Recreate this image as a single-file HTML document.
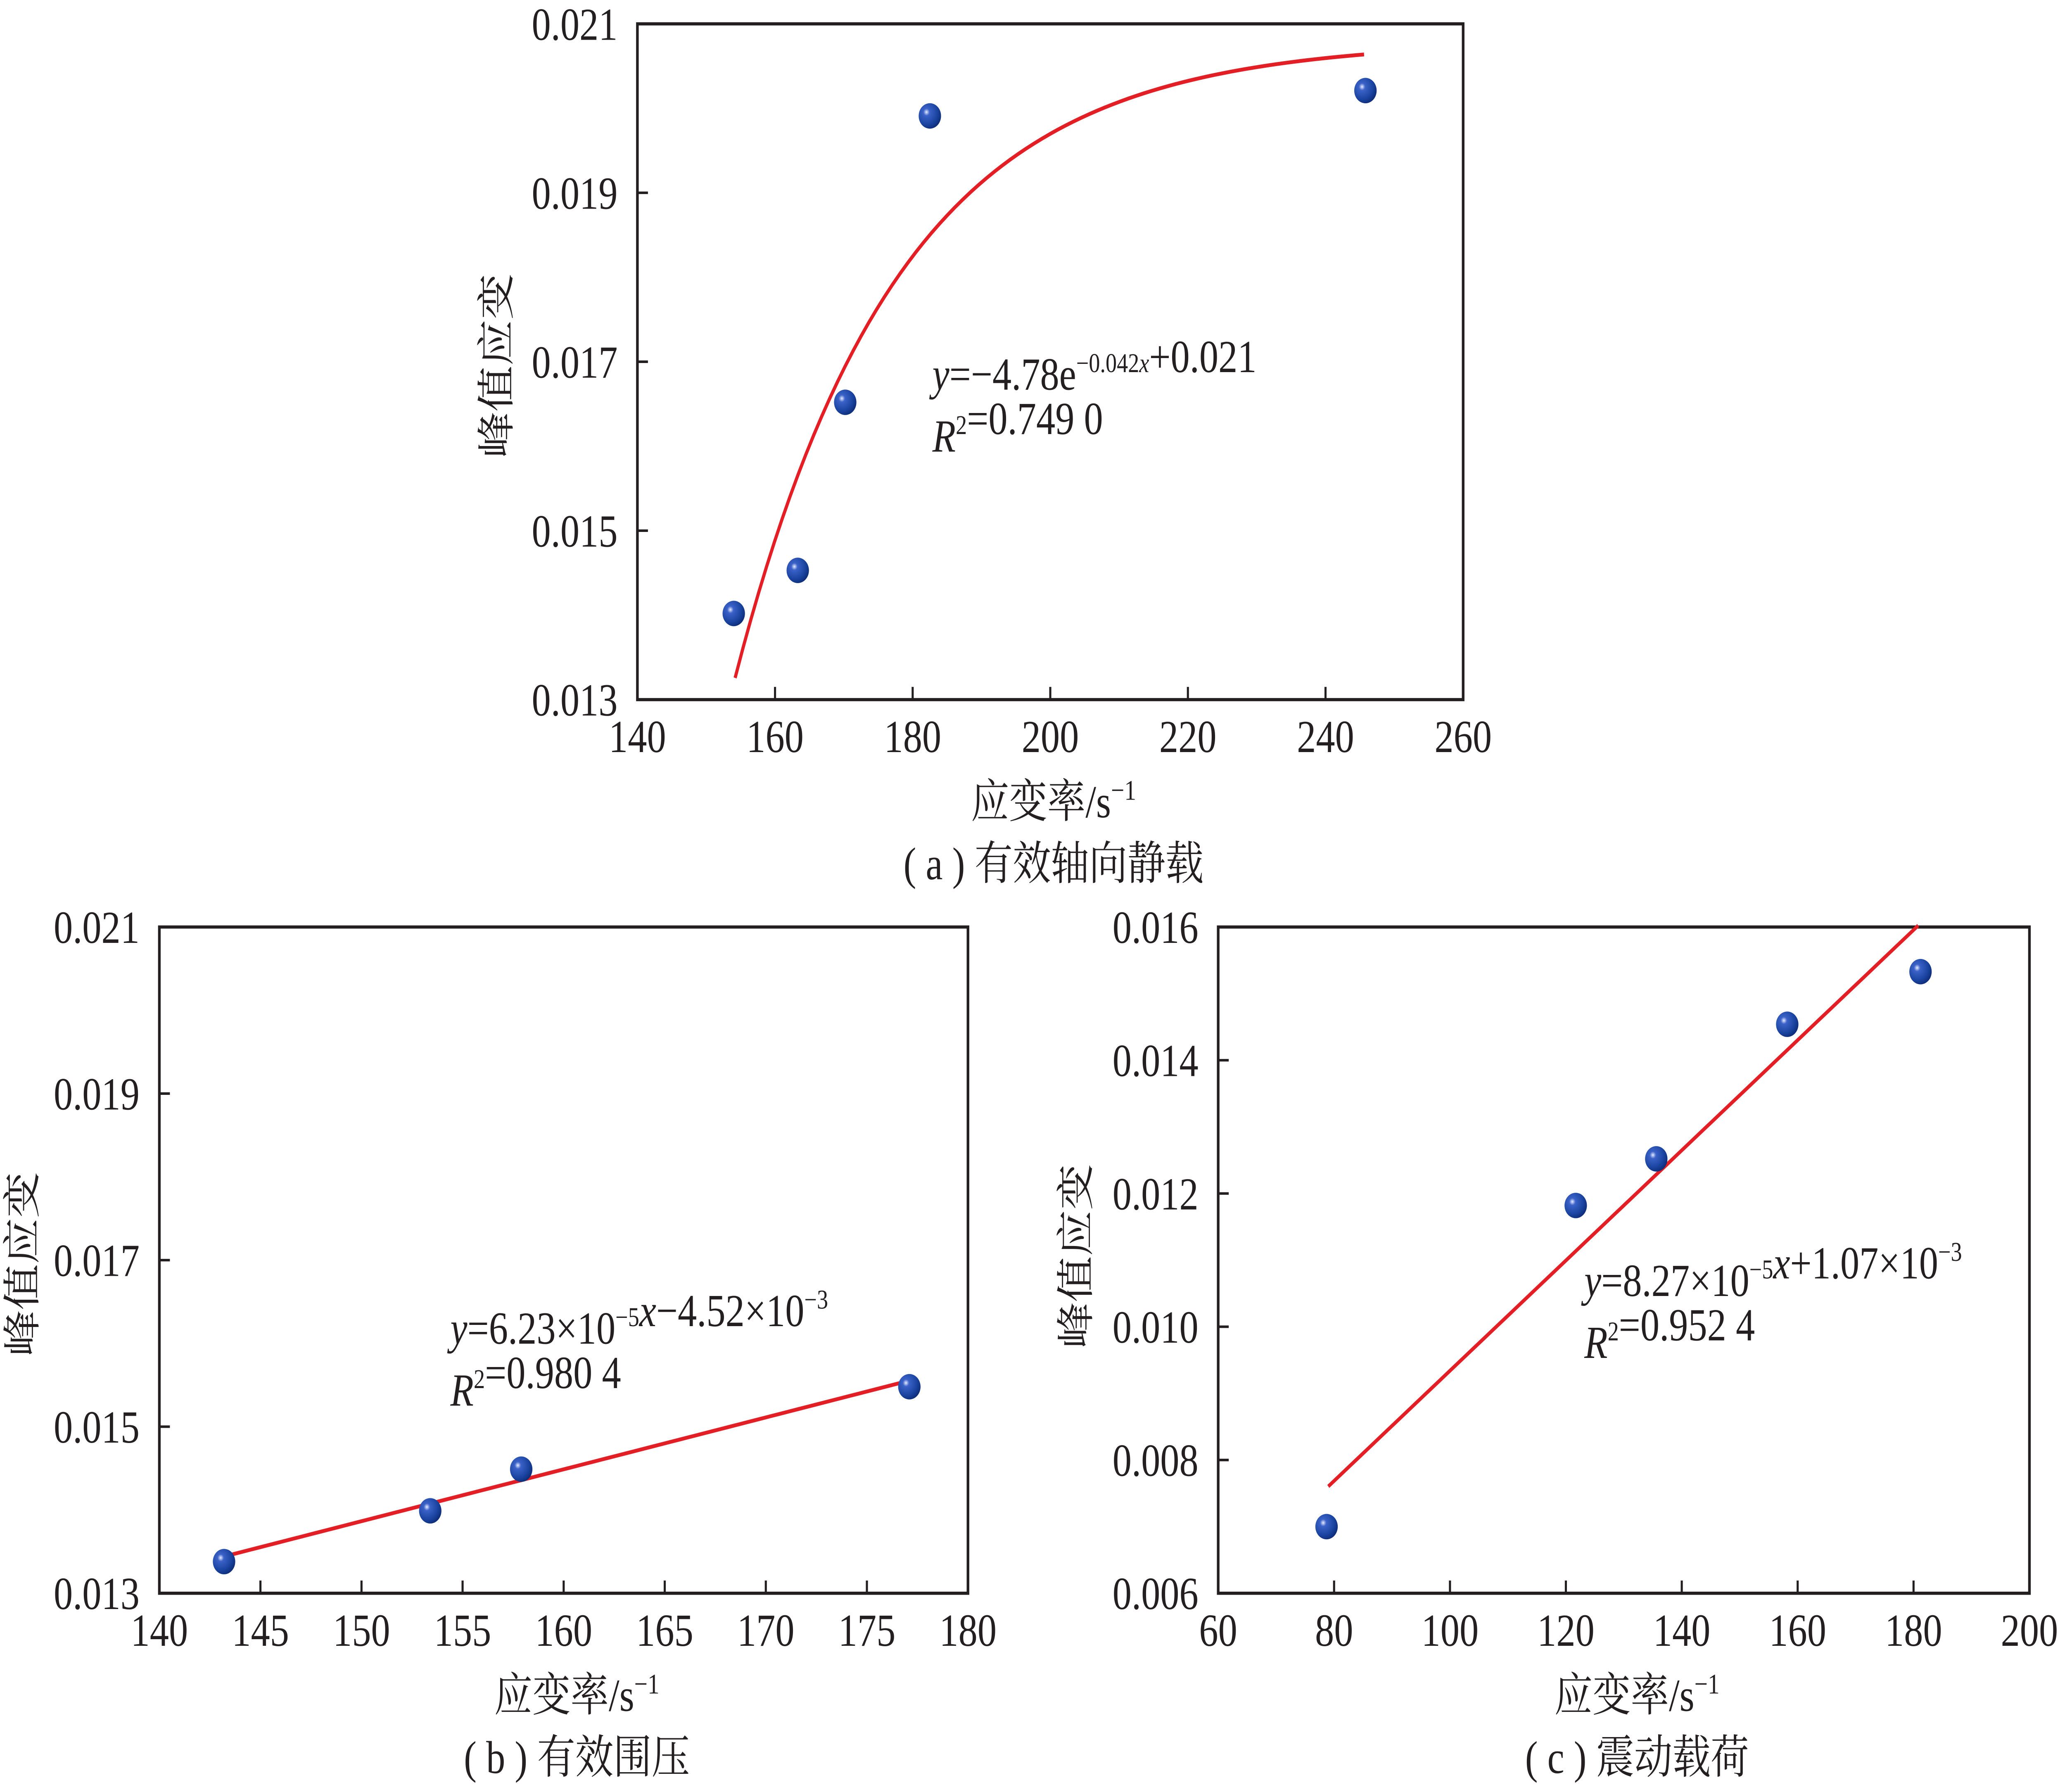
<!DOCTYPE html>
<html><head><meta charset="utf-8"><style>
html,body{margin:0;padding:0;background:#fff;overflow:hidden;width:100%;height:100%;}
svg{display:block;width:100vw;height:100vh;}
text{font-family:"Liberation Serif","Noto Serif CJK SC","Noto Sans CJK SC",serif;fill:#231f20;}
</style></head><body>
<svg id="fig" viewBox="0 0 1568 1127" preserveAspectRatio="none" xmlns="http://www.w3.org/2000/svg">
<defs>
<radialGradient id="ball" cx="0.35" cy="0.35" r="0.7">
<stop offset="0" stop-color="#e8ecff"/><stop offset="0.2" stop-color="#3b62c8"/><stop offset="0.7" stop-color="#1a44a0"/><stop offset="1" stop-color="#0e2c78"/>
</radialGradient>
</defs>
<g id="g"></g>
</svg>
<script>
// Panel (a)
const aXTicks = [140,160,180,200,220,240,260];
const aYTicks = [0.013,0.015,0.017,0.019,0.021];
const aYLabels = ["0.013","0.015","0.017","0.019","0.021"];
const aX = [154.0,163.3,170.2,182.5,245.8];
const aY = [0.01402,0.01453,0.01652,0.01991,0.02021];
const aFitA = [4.9];
const aFitK = [0.042];
const aFitC = [0.0208];
const aFitRange = [154.2,245.6];
// Panel (b)
const bXTicks = [140,145,150,155,160,165,170,175,180];
const bYTicks = [0.013,0.015,0.017,0.019,0.021];
const bYLabels = ["0.013","0.015","0.017","0.019","0.021"];
const bX = [143.2,153.4,157.9,177.1];
const bY = [0.01338,0.01399,0.01449,0.01548];
const bSlope = [6.23e-5];
const bIntercept = [4.52e-3];
const bFitRange = [143.2,177.1];
// Panel (c)
const cXTicks = [60,80,100,120,140,160,180,200];
const cYTicks = [0.006,0.008,0.010,0.012,0.014,0.016];
const cYLabels = ["0.006","0.008","0.010","0.012","0.014","0.016"];
const cX = [78.7,121.7,135.6,158.2,181.2];
const cY = [0.0070,0.01182,0.01252,0.01454,0.01533];
const cSlope = [8.27e-5];
const cIntercept = [1.07e-3];
const cFitRange = [79,180.8];

const NS="http://www.w3.org/2000/svg";
const root=document.getElementById('g');
function mk(tag,attrs,parent,txt){const e=document.createElementNS(NS,tag);for(const k in attrs)e.setAttribute(k,attrs[k]);if(txt!==undefined)e.textContent=txt;(parent||root).appendChild(e);return e;}

function panel(id,box,xt,yt,ylab,xs,ys,fitFn,fitRange,eq,ylabPos,xlabPos,cap){
  const grp=mk('g',{});
  
  
  const [L,T,R,B]=box;
  const sx=v=>L+(v-xt[0])/(xt[xt.length-1]-xt[0])*(R-L);
  const sy=v=>B-(v-yt[0])/(yt[yt.length-1]-yt[0])*(B-T);
  const frame=mk('rect',{x:L,y:T,width:R-L,height:B-T,fill:'none',stroke:'#231f20','stroke-width':2},grp);
  
  
  xt.forEach((v,i)=>{
    const x=sx(v);
    if(i>0&&i<xt.length-1){const t=mk('line',{x1:x,x2:x,y1:B,y2:B-8,stroke:'#231f20','stroke-width':1.6},grp);
    
    }
    const l=mk('text',{x:x,y:B+33,'font-size':29,'text-anchor':'middle'},grp,String(v));
    
    
  });
  yt.forEach((v,i)=>{
    const y=sy(v);
    if(i>0&&i<yt.length-1){const t=mk('line',{x1:L,x2:L+8,y1:y,y2:y,stroke:'#231f20','stroke-width':1.6},grp);
    
    }
    const l=mk('text',{x:L-15,y:y+10,'font-size':29,'text-anchor':'end'},grp,ylab[i]);
    
    
  });
  let d='';const n=80;
  for(let i=0;i<=n;i++){const xv=fitRange[0]+(fitRange[1]-fitRange[0])*i/n;d+=(i?'L':'M')+sx(xv).toFixed(2)+','+sy(fitFn(xv)).toFixed(2);}
  const fl=mk('path',{d:d,fill:'none',stroke:'#e31e24','stroke-width':2.4},grp);
  
  
  xs.forEach((xv,i)=>{
    const p=mk('ellipse',{cx:sx(xv),cy:sy(ys[i]),rx:8.5,ry:8,fill:'url(#ball)'},grp);
    
    
  });
  const e1=mk('text',{x:eq[0],y:eq[1],'font-size':29},grp);
  
  
  e1.innerHTML=eq[2];
  const e2=mk('text',{x:eq[0],y:eq[1]+39,'font-size':29},grp);
  
  
  e2.innerHTML=eq[3];
  const yl=mk('text',{x:0,y:0,'font-size':29,'text-anchor':'middle',transform:`translate(${ylabPos[0]},${ylabPos[1]}) rotate(-90)`},grp,'峰值应变');
  
  
  const xl=mk('text',{x:xlabPos[0],y:xlabPos[1],'font-size':29,'text-anchor':'middle'},grp);
  
  
  xl.innerHTML='应变率/s<tspan dy="-11" font-size="18">−1</tspan>';
  const cp=mk('text',{x:xlabPos[0],y:xlabPos[1]+39,'font-size':29,'text-anchor':'middle'},grp,cap);
  
  
}
const sup=(s)=>`<tspan dy="-11" font-size="17">${s}</tspan><tspan dy="11"></tspan>`;
panel('a',[484,15,1111,440],aXTicks,aYTicks,aYLabels,aX,aY,
  x=>aFitC[0]-aFitA[0]*Math.exp(-aFitK[0]*x),aFitRange,
  [708,245,'<tspan font-style="italic">y</tspan>=−4.78e'+sup('−0.042<tspan font-style="italic">x</tspan>')+'+0.021','<tspan font-style="italic">R</tspan>'+sup('2')+'=0.749 0'],
  [387,230],[800,514],'( a ) 有效轴向静载');
panel('b',[121,583,735,1002],bXTicks,bYTicks,bYLabels,bX,bY,
  x=>bSlope[0]*x+bIntercept[0],bFitRange,
  [342,845,'<tspan font-style="italic">y</tspan>=6.23×10'+sup('−5')+'<tspan font-style="italic">x</tspan>−4.52×10'+sup('−3'),'<tspan font-style="italic">R</tspan>'+sup('2')+'=0.980 4'],
  [27,795],[438,1076],'( b ) 有效围压');
panel('c',[925,583,1541,1002],cXTicks,cYTicks,cYLabels,cX,cY,
  x=>cSlope[0]*x+cIntercept[0],cFitRange,
  [1203,815,'<tspan font-style="italic">y</tspan>=8.27×10'+sup('−5')+'<tspan font-style="italic">x</tspan>+1.07×10'+sup('−3'),'<tspan font-style="italic">R</tspan>'+sup('2')+'=0.952 4'],
  [827,790],[1243,1076],'( c ) 震动载荷');
</script>
</body></html>
